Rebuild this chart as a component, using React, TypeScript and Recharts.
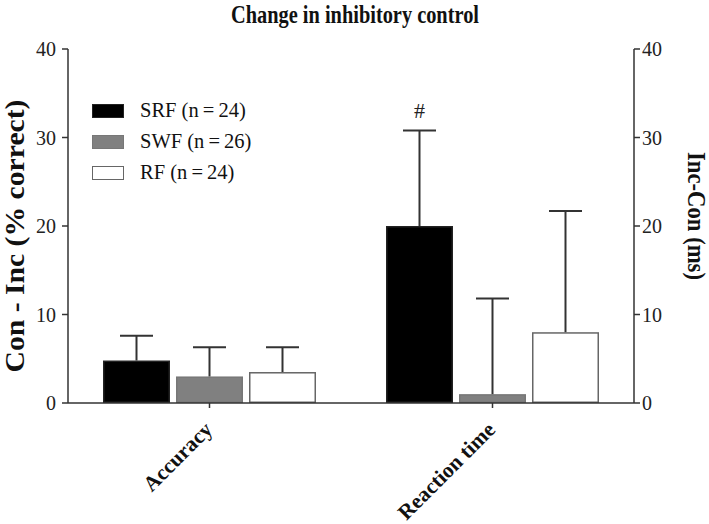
import React from 'react';
import { ComposedChart, Bar, Line, XAxis, YAxis, Legend, Customized } from 'recharts';

const categories = ['Accuracy', 'Reaction time'];
const srfValues = [4.8, 20.0];
const srfErrors = [2.8, 10.8];
const swfValues = [3.0, 1.0];
const swfErrors = [3.3, 10.8];
const rfValues = [3.5, 8.0];
const rfErrors = [2.8, 13.7];
const sigMarks = ['', '#'];
const yTicks = [0, 10, 20, 30, 40];
const seriesNames = ['SRF (n\u2009=\u200924)', 'SWF (n\u2009=\u200926)', 'RF (n\u2009=\u200924)'];

const data = categories.map((c, i) => ({
  category: c,
  srf: srfValues[i],
  srfErr: srfErrors[i],
  swf: swfValues[i],
  swfErr: swfErrors[i],
  rf: rfValues[i],
  rfErr: rfErrors[i],
  sig: sigMarks[i],
}));

const FONT = '"Liberation Serif", "Times New Roman", serif';
const AXIS = '#333';

const seriesStyles = [
  { key: 'srf', err: 'srfErr', fill: '#000000', stroke: '#222' },
  { key: 'swf', err: 'swfErr', fill: '#808080', stroke: '#777' },
  { key: 'rf', err: 'rfErr', fill: '#ffffff', stroke: '#666' },
];

const makeShape = (valKey: string, errKey: string, fill: string, stroke: string, withSig: boolean) => (props: any) => {
  const { x, y, width, height, payload } = props;
  const v = payload[valKey];
  const e = payload[errKey];
  const ppu = v ? height / v : 0;
  const top = y - e * ppu;
  const cx = x + width / 2;
  return (
    <g>
      <rect x={x + 0.75} y={y + 0.75} width={Math.max(0, width - 1.5)} height={Math.max(0, height - 1.5)} fill={fill} stroke={stroke} strokeWidth={1.5} />
      <line x1={cx} y1={y} x2={cx} y2={top} stroke={AXIS} strokeWidth={2} />
      <line x1={cx - 16.5} y1={top} x2={cx + 16.5} y2={top} stroke={AXIS} strokeWidth={2} />
      {withSig && payload.sig ? (
        <text x={cx} y={top - 12} textAnchor="middle" fontFamily={FONT} fontSize={22} fill="#222">
          {payload.sig}
        </text>
      ) : null}
    </g>
  );
};

const XTick = (props: any) => {
  const { x, y, payload } = props;
  const ax = x + 4;
  const ay = y + 21;
  return (
    <text x={ax} y={ay} transform={`rotate(-45, ${ax}, ${ay})`} textAnchor="end" fontFamily={FONT} fontWeight="bold" fontSize={21.5} fill="#111">
      {payload.value}
    </text>
  );
};

const LegendContent = () => (
  <div style={{ fontFamily: FONT, fontSize: 20.5, color: '#111' }}>
    {seriesStyles.map((s, i) => (
      <div key={s.key} style={{ display: 'flex', alignItems: 'center', height: 31 }}>
        <div style={{ width: 30, height: 12, background: s.fill, border: `1.5px solid ${s.stroke}`, marginRight: 16 }} />
        <span>{seriesNames[i]}</span>
      </div>
    ))}
  </div>
);

const Labels = () => (
  <g>
    <text x={355} y={23} textAnchor="middle" fontFamily={FONT} fontWeight="bold" fontSize={25} fill="#111" textLength={248} lengthAdjust="spacingAndGlyphs">
      Change in inhibitory control
    </text>
    <text x={24} y={236} transform="rotate(-90, 24, 236)" textAnchor="middle" fontFamily={FONT} fontWeight="bold" fontSize={27} fill="#111" textLength={273} lengthAdjust="spacingAndGlyphs">
      Con - Inc (% correct)
    </text>
    <text x={688} y={216} transform="rotate(90, 688, 216)" textAnchor="middle" fontFamily={FONT} fontWeight="bold" fontSize={25} fill="#111" textLength={128} lengthAdjust="spacingAndGlyphs">
      Inc-Con (ms)
    </text>
  </g>
);

export default function App() {
  return (
    <div style={{ position: 'absolute', left: 0, top: 0 }}>
      <ComposedChart
        width={709}
        height={524}
        data={data}
        margin={{ top: 49, right: 0, bottom: 0, left: 0 }}
        barSize={67}
        barGap={6}
      >
        <XAxis
          dataKey="category"
          height={121}
          tick={<XTick />}
          tickLine={{ stroke: AXIS, strokeWidth: 1.5 }}
          axisLine={{ stroke: AXIS, strokeWidth: 1.5 }}
          tickSize={5}
          interval={0}
        />
        <YAxis
          yAxisId="left"
          width={68}
          domain={[0, 40]}
          ticks={yTicks}
          tick={{ fontFamily: FONT, fontSize: 20, fill: '#222' }}
          tickLine={{ stroke: AXIS, strokeWidth: 1.5 }}
          axisLine={{ stroke: AXIS, strokeWidth: 1.5 }}
          tickSize={6}
          tickMargin={6}
        />
        <YAxis
          yAxisId="right"
          orientation="right"
          width={75}
          domain={[0, 40]}
          ticks={yTicks}
          tick={{ fontFamily: FONT, fontSize: 20, fill: '#222' }}
          tickLine={{ stroke: AXIS, strokeWidth: 1.5 }}
          axisLine={{ stroke: AXIS, strokeWidth: 1.5 }}
          tickSize={6}
          tickMargin={2}
        />
        <Legend
          layout="horizontal"
          align="center"
          verticalAlign="middle"
          content={<LegendContent />}
          wrapperStyle={{ position: 'absolute', left: 92, top: 95, width: 200 }}
        />
        {seriesStyles.map((s, i) => (
          <Bar
            key={s.key}
            yAxisId="left"
            dataKey={s.key}
            name={seriesNames[i]}
            fill={s.fill}
            isAnimationActive={false}
            shape={makeShape(s.key, s.err, s.fill, s.stroke, s.key === 'srf')}
          />
        ))}
        <Line
          yAxisId="right"
          dataKey="srf"
          stroke="none"
          dot={false}
          activeDot={false}
          legendType="none"
          isAnimationActive={false}
        />
        <Customized component={Labels} />
      </ComposedChart>
    </div>
  );
}
